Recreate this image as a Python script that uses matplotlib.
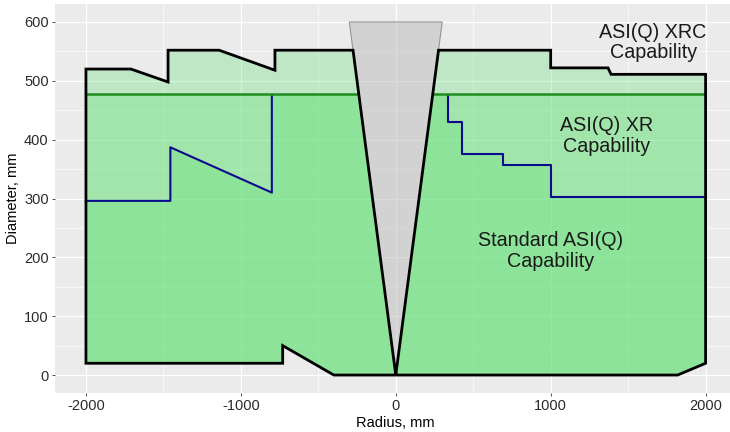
import numpy as np
import matplotlib
matplotlib.use("Agg")
import matplotlib.pyplot as plt
from matplotlib.patches import Polygon

plt.rcParams["font.family"] = ["Liberation Sans", "DejaVu Sans"]
plt.rcParams["axes.unicode_minus"] = False

# outline of the whole XRC envelope (radius, diameter), left of the cone then right
left_r = [0, -400, -730, -730, -2000, -2000, -1710, -1470, -1470, -1140, -780, -780]
left_d = [0, 0, 50, 20, 20, 520, 520, 498, 552, 552, 518, 552]
right_r = [1000, 1000, 1370, 1390, 2000, 2000, 1820, 0]
right_d = [552, 522, 522, 511, 511, 20, 0, 0]

# XR limit (green line)
xr_limit = 478

# standard capability limit (blue line), left and right parts
std_left_r = [-2000, -1455, -1455, -800, -800]
std_left_d = [296, 296, 387, 310, 476]
std_right_r = [340, 340, 425, 425, 690, 690, 1000, 1000, 2000]
std_right_d = [475, 430, 430, 375, 375, 357, 357, 303, 303]

# cone in the middle
cone_r = [-300, 300, 0]
cone_d = [600, 600, 0]

fill_col = (92/255, 225/255, 112/255)

# envelope with the cone cut out (cone edges meet the top at diameter 552)
top_d = left_d[-1]
cut_l = np.interp(top_d, [cone_d[2], cone_d[0]], [cone_r[2], cone_r[0]])
cut_r = np.interp(top_d, [cone_d[2], cone_d[1]], [cone_r[2], cone_r[1]])
env_r = left_r + [cut_l, 0, cut_r] + right_r[:-1]
env_d = left_d + [top_d, 0, top_d] + right_d[:-1]
env_xy = np.column_stack([env_r, env_d])

fig = plt.figure(figsize=(7.3, 4.32), dpi=100)
ax = fig.add_axes([0.0753, 0.091, 0.9337, 0.899])
ax.set_facecolor("#EBEBEB")
for s in ax.spines.values():
    s.set_visible(False)

ax.set_xlim(-2200, 2200)
ax.set_ylim(-30, 630)
ax.set_xticks([-2000, -1000, 0, 1000, 2000])
ax.set_xticks([-1500, -500, 500, 1500], minor=True)
ax.set_yticks(np.arange(0, 601, 100))
ax.set_yticks(np.arange(50, 601, 100), minor=True)
ax.grid(which="major", color="white", lw=0.9, zorder=0)
ax.grid(which="minor", color="white", lw=0.45, zorder=0)
ax.set_axisbelow(True)
ax.tick_params(which="major", length=2.5, width=0.6, color="#333333",
               labelsize=10.5, labelcolor="#2B2B2B", pad=2)
ax.tick_params(which="minor", length=0)

# XRC region
outer = Polygon(env_xy, closed=True, facecolor=fill_col, alpha=0.3,
                edgecolor="none", zorder=1)
ax.add_patch(outer)

# XR region: everything under the green line
xs = np.array([-2100, 2100])
xr_fill = ax.fill_between(xs, -10, xr_limit, color=fill_col, alpha=0.3,
                          lw=0, zorder=1.1)
xr_fill.set_clip_path(outer)

# standard region: below the blue line, up to the green line in the middle
top_r = std_left_r + std_right_r
n_left = len(std_left_r)
top_d = [xr_limit if i in (n_left - 1, n_left) else d
         for i, d in enumerate(std_left_d + std_right_d)]
std_fill = ax.fill_between(top_r, -10, top_d, color=fill_col, alpha=0.3,
                           lw=0, zorder=1.2)
std_fill.set_clip_path(outer)

# cone
ax.add_patch(Polygon(np.column_stack([cone_r, cone_d]), closed=True,
                     facecolor="#BEBEBE", alpha=0.55, edgecolor="#555555",
                     lw=0.8, zorder=1.5))

ax.plot(std_left_r, std_left_d, color="#0A0A8C", lw=1.5, zorder=2)
ax.plot(std_right_r, std_right_d, color="#0A0A8C", lw=1.5, zorder=2)
gl, = ax.plot([-2000, 2000], [xr_limit, xr_limit], color="#1E8C1E", lw=1.8,
              zorder=2)
gl.set_clip_path(outer)

ax.add_patch(Polygon(env_xy, closed=True, facecolor="none", edgecolor="black",
                     lw=2.0, joinstyle="miter", zorder=3))

txt = dict(ha="center", va="center", fontsize=14.2, color="#1A1A1A",
           linespacing=1.1, zorder=5)
ax.text(1661, 565, "ASI(Q) XRC\nCapability", **txt)
ax.text(1360, 406, "ASI(Q) XR\nCapability", **txt)
ax.text(1000, 211, "Standard ASI(Q)\nCapability", **txt)

ax.set_xlabel("Radius, mm", fontsize=10.5, color="black", labelpad=2)
ax.set_ylabel("Diameter, mm", fontsize=10.5, color="black", labelpad=3)

fig.savefig("out.png", dpi=100)
